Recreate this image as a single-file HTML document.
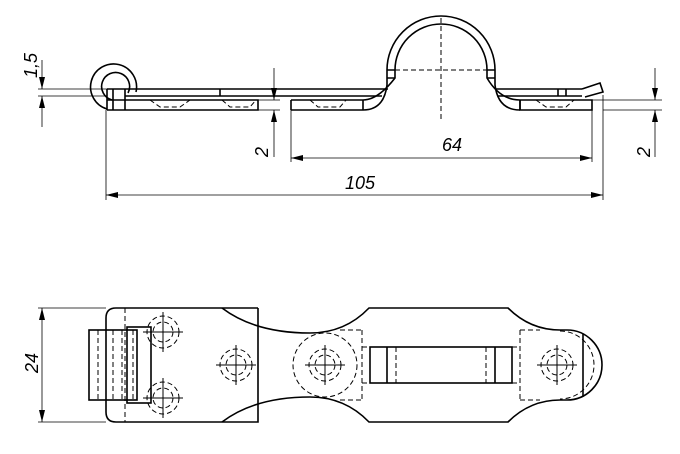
<!DOCTYPE html>
<html><head><meta charset="utf-8"><style>body{margin:0;background:#fff}svg{display:block}</style></head><body>
<svg width="680" height="454" viewBox="0 0 680 454" xmlns="http://www.w3.org/2000/svg" font-family="Liberation Sans, sans-serif">
<defs><marker id="a" viewBox="0 0 12 6" refX="12" refY="3" markerWidth="12" markerHeight="6" markerUnits="userSpaceOnUse" orient="auto-start-reverse"><path d="M0,0L12,3L0,6z" fill="#000"/></marker></defs>
<g fill="none" stroke="#000" stroke-width="1.6">
<!-- top view -->
<path d="M107,109 A23,23 0 1 1 136,92"/>
<path d="M112,100 A14,14 0 1 1 128,93"/>
<path d="M107,89 H388 M125,96 H382"/>
<path d="M107,89 V110 M107,100 H258 V110 H107"/>
<path d="M113,89 V110 M125,89 V110"/>
<path d="M220,89 V96"/>
<path d="M291,100 H363 M291,110 H363 M291,100 V110"/>
<path d="M363,110 Q384,110 387,85 L387,70 A54,54 0 0 1 495,70 L495,85 Q498,110 520,110"/>
<path d="M363,100 Q378,100 395,78 L395,70 A46,46 0 0 1 487,70 L487,78 Q500,100 520,100"/>
<path d="M387,70 H395 M387,78 H395 M487,70 H495 M487,78 H495"/>
<path d="M495,89 H582 M498,96 H582 M520,100 V110 H592 V100 H520"/>
<path d="M558,89 V96 M566,89 V96 M582,89 L600,83 L603,92 L585,97"/>
<path d="M363,100 V110 M520,100 V110"/>
</g>
<g fill="none" stroke="#000" stroke-width="1" stroke-dasharray="5,3">
<path d="M441,18 V120 M395,70 H487"/>
<path d="M150,100 L160,107 H180 L190,100 M222,100 L230,107 H250 L256,100 M310,100 L318,107 H340 L346,100 M536,100 L546,107 H566 L574,100"/>
</g>
<!-- dims top -->
<g stroke="#000" stroke-width="0.8" fill="none">
<path d="M38,89 H107 M38,96 H107"/>
<path d="M42,60 V89" marker-end="url(#a)"/><path d="M42,127 V96" marker-end="url(#a)"/>
<path d="M258,100 H280 M258,110 H280"/>
<path d="M274,68 V100" marker-end="url(#a)"/><path d="M274,157 V110" marker-end="url(#a)"/>
<path d="M592,100 H662 M603,110 H662"/>
<path d="M655,68 V100" marker-end="url(#a)"/><path d="M655,157 V110" marker-end="url(#a)"/>
<path d="M291,110 V162 M592,110 V162 M106,110 V200 M603,95 V200"/>
<path d="M291,158 H592" marker-start="url(#a)" marker-end="url(#a)"/>
<path d="M106,195 H603" marker-start="url(#a)" marker-end="url(#a)"/>
</g>
<g font-size="18" font-style="italic" fill="#000">
<text x="442" y="151">64</text>
<text x="345" y="189">105</text>
<text transform="translate(37,78) rotate(-90)">1,5</text>
<text transform="translate(268,157) rotate(-90)">2</text>
<text transform="translate(650,157) rotate(-90)">2</text>
<text transform="translate(38,373) rotate(-90)">24</text>
</g>
<!-- bottom view -->
<g fill="none" stroke="#000" stroke-width="1.6">
<path d="M258,308 H116 Q106,308 106,318 V412 Q106,422 116,422 H258 V308"/>
<path d="M222,308 Q255,333 310,333 Q345,333 369,308 H508 Q530,330 560,330 H567 A35,35 0 0 1 567,400 H560 Q530,400 508,422 H369 Q345,397 310,397 Q255,397 222,422"/>
<path d="M583,334 V396"/>
<rect x="89" y="330" width="48" height="70"/>
<rect x="127" y="327" width="24" height="76"/>
<rect x="370" y="347" width="142" height="36"/>
<path d="M387,347 V383 M495,347 V383"/>
</g>
<g fill="none" stroke="#000" stroke-width="1" stroke-dasharray="5,3">
<path d="M125,308 V422 M258,308 V422"/>
<path d="M98,330 V400 M106,330 V400 M113,330 V400 M122,330 V400 M133,330 V400"/>
<path d="M362,330 V400 M520,330 V400 M340,330 H362 M340,400 H362 M520,330 H540 M520,400 H540"/>
<path d="M396,347 V383 M486,347 V383 M362,347 H370 M362,383 H370 M512,347 H520 M512,383 H520"/>
<circle cx="325" cy="365" r="32"/>
<path d="M560,331 A34,34 0 0 1 560,399"/>
<g>
<circle cx="163" cy="332" r="16"/><circle cx="163" cy="332" r="10"/>
<circle cx="163" cy="398" r="16"/><circle cx="163" cy="398" r="10"/>
<circle cx="236" cy="365" r="16"/><circle cx="236" cy="365" r="10"/>
<circle cx="325" cy="365" r="16"/><circle cx="325" cy="365" r="10"/>
<circle cx="557" cy="365" r="16"/><circle cx="557" cy="365" r="10"/>
</g>
</g>
<g stroke="#000" stroke-width="1">
<path d="M143,332 H183 M163,312 V352 M143,398 H183 M163,378 V418 M216,365 H256 M236,345 V385 M305,365 H345 M325,345 V385 M537,365 H577 M557,345 V385"/>
</g>
<g stroke="#000" stroke-width="0.8" fill="none">
<path d="M38,308 H106 M38,422 H106"/>
<path d="M42,365 V308" marker-end="url(#a)"/><path d="M42,365 V422" marker-end="url(#a)"/>
</g>
</svg>
</body></html>
